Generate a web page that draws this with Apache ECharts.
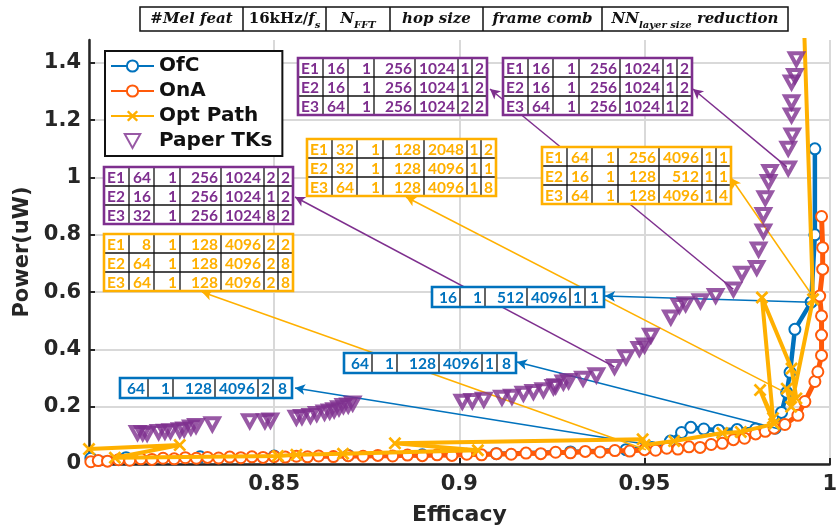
<!DOCTYPE html>
<html>
<head>
<meta charset="utf-8">
<script src="https://cdn.jsdelivr.net/npm/echarts@6/dist/echarts.min.js"></script>
<style>
  html, body { margin: 0; padding: 0; background: #fff; }
  #main { width: 840px; height: 531px; }
</style>
</head>
<body>
<div id="main"></div>
<script>
// ---- data: [efficacy, power] ----
var ofcData = [
  [0.8005, 0.02], [0.81, 0.022], [0.83, 0.025], [0.85, 0.028], [0.87, 0.03],
  [0.89, 0.032], [0.91, 0.036], [0.93, 0.042], [0.945, 0.05], [0.952, 0.058],
  [0.957, 0.08], [0.96, 0.11], [0.9625, 0.128], [0.966, 0.122], [0.97, 0.118],
  [0.975, 0.12], [0.98, 0.122], [0.9853, 0.125], [0.987, 0.18], [0.9884, 0.25],
  [0.9893, 0.32], [0.9906, 0.47], [0.995, 0.565], [0.996, 0.8], [0.996, 1.1]
];
var onaData = [
  [0.8005, 0.008], [0.8025, 0.012], [0.805, 0.01], [0.808, 0.015], [0.811, 0.013],
  [0.814, 0.018], [0.817, 0.016], [0.82, 0.02], [0.823, 0.018], [0.826, 0.022],
  [0.829, 0.02], [0.832, 0.023], [0.835, 0.021], [0.838, 0.024], [0.841, 0.022],
  [0.844, 0.025], [0.847, 0.023], [0.85, 0.026], [0.853, 0.024], [0.856, 0.027],
  [0.859, 0.025], [0.862, 0.028], [0.866, 0.026], [0.87, 0.029], [0.874, 0.027],
  [0.878, 0.03], [0.882, 0.028], [0.886, 0.031], [0.89, 0.029], [0.894, 0.032],
  [0.898, 0.03], [0.902, 0.034], [0.906, 0.032], [0.91, 0.036], [0.914, 0.034],
  [0.918, 0.038], [0.922, 0.036], [0.926, 0.041], [0.93, 0.039], [0.934, 0.044],
  [0.938, 0.042], [0.942, 0.047], [0.946, 0.045], [0.95, 0.05], [0.953, 0.048],
  [0.956, 0.055], [0.959, 0.052], [0.962, 0.06], [0.965, 0.058], [0.968, 0.068],
  [0.971, 0.072], [0.974, 0.085], [0.977, 0.09], [0.98, 0.105], [0.9826, 0.114],
  [0.985, 0.125], [0.9879, 0.138], [0.9914, 0.17], [0.9933, 0.218], [0.996, 0.288],
  [0.9968, 0.322], [0.9978, 0.379], [0.9978, 0.45], [0.9978, 0.517], [0.9973, 0.586],
  [0.9981, 0.68], [0.9981, 0.755], [0.9978, 0.864]
];
var optData = [
  [0.8, 0.052], [0.8245, 0.066], [0.807, 0.022], [0.851, 0.028], [0.856, 0.032],
  [0.8686, 0.036], [0.905, 0.048], [0.8826, 0.072], [0.9495, 0.086], [0.95, 0.066],
  [0.958, 0.08], [0.971, 0.108], [0.976, 0.112], [0.985, 0.14], [0.9812, 0.258],
  [0.9847, 0.16], [0.9817, 0.581], [0.9897, 0.333], [0.991, 0.229], [0.9884, 0.263],
  [0.9896, 0.2], [0.9955, 0.575], [0.9929, 1.6]
];
var tkData = [
  [0.8131, 0.109], [0.8145, 0.108], [0.8157, 0.106], [0.8188, 0.112], [0.8205, 0.113],
  [0.822, 0.115], [0.8245, 0.118], [0.8257, 0.121], [0.8275, 0.128], [0.8289, 0.133],
  [0.8333, 0.139], [0.8434, 0.15], [0.8475, 0.15], [0.849, 0.152], [0.856, 0.162],
  [0.8575, 0.165], [0.8598, 0.168], [0.8615, 0.175], [0.8636, 0.18], [0.865, 0.184],
  [0.8662, 0.188], [0.8675, 0.195], [0.8687, 0.203], [0.87, 0.205], [0.8712, 0.212],
  [0.9008, 0.218], [0.9035, 0.22], [0.9066, 0.225], [0.9115, 0.232], [0.9142, 0.235],
  [0.9173, 0.246], [0.92, 0.252], [0.9227, 0.258], [0.9254, 0.269], [0.926, 0.272],
  [0.9281, 0.285], [0.9295, 0.29], [0.9334, 0.298], [0.937, 0.31], [0.9419, 0.339],
  [0.945, 0.373], [0.9486, 0.402], [0.95, 0.414], [0.9517, 0.448], [0.9571, 0.512],
  [0.9594, 0.552], [0.9611, 0.558], [0.9651, 0.569], [0.9692, 0.587], [0.974, 0.61],
  [0.9763, 0.665], [0.9803, 0.685], [0.9808, 0.749], [0.9821, 0.812], [0.9821, 0.87],
  [0.9826, 0.928], [0.9835, 0.985], [0.9839, 1.02], [0.9888, 1.032], [0.9888, 1.101],
  [0.9899, 1.147], [0.9897, 1.217], [0.9897, 1.263], [0.9897, 1.332], [0.9906, 1.355],
  [0.991, 1.413]
];

var seriesNames = ['OfC', 'OnA', 'Opt Path', 'Paper TKs'];

// header table of the parameter columns
var headerCells = [
  '{it|#Mel feat}',
  '{up|16kHz/}{it|f}{sub|s}',
  '{it|N}{sub|FFT}',
  '{it|hop size}',
  '{it|frame comb}',
  '{it|NN}{sub|layer size}{it| reduction}'
];

// annotation tables
var tkTableA = [['E1','16','1','256','1024','1','2'], ['E2','16','1','256','1024','1','2'], ['E3','64','1','256','1024','2','2']];
var tkTableB = [['E1','16','1','256','1024','1','2'], ['E2','16','1','256','1024','1','2'], ['E3','64','1','256','1024','1','2']];
var tkTableC = [['E1','64','1','256','1024','2','2'], ['E2','16','1','256','1024','1','2'], ['E3','32','1','256','1024','8','2']];
var optTableD = [['E1','8','1','128','4096','2','2'], ['E2','64','1','128','4096','2','8'], ['E3','64','1','128','4096','2','8']];
var optTableE = [['E1','64','1','256','4096','1','1'], ['E2','16','1','128','512','1','1'], ['E3','64','1','128','4096','1','4']];
var optTableF = [['E1','32','1','128','2048','1','2'], ['E2','32','1','128','4096','1','1'], ['E3','64','1','128','4096','1','8']];
var ofcTableG = [['16','1','512','4096','1','1']];
var ofcTableH = [['64','1','128','4096','1','8']];
var ofcTableI = [['64','1','128','4096','2','8']];

// arrows: data point [x, y] -> table edge in pixels [px, py]
var tkArrows = [[[0.974, 0.61], [490, 89]], [[0.9884, 1.037], [693, 89]], [[0.9419, 0.339], [295, 197]]];
var optArrows = [[[0.9504, 0.05], [202, 292]], [[0.996, 0.575], [731, 178]], [[0.987, 0.256], [406, 197]]];
var ofcArrows = [[[0.995, 0.565], [605, 296]], [[0.9866, 0.121], [517, 362]], [[0.95, 0.07], [295, 388]]];

var C_OFC = '#0072BD', C_ONA = '#FF5A0A', C_OPT = '#FFB000', C_TK = '#7E2F8E';

var chart = echarts.init(document.getElementById('main'));

function arrowLines(list) {
  return list.map(function (a) {
    return [{ coord: a[0] }, { x: a[1][0], y: a[1][1] }];
  });
}

function markArrows(list, color) {
  return {
    silent: true,
    animation: false,
    symbol: ['none', 'arrow'],
    symbolSize: [8, 10],
    label: { show: false },
    lineStyle: { type: 'solid', width: 1.5, color: color },
    emphasis: { disabled: true },
    data: arrowLines(list)
  };
}

// build a little boxed table
function tableEls(rows, x0, y0, widths, rowH, color, firstLeft) {
  var els = [];
  var W = 0;
  widths.forEach(function (w) { W += w; });
  var H = rowH * rows.length;
  els.push({ type: 'rect', z: 20, shape: { x: x0, y: y0, width: W, height: H }, style: { fill: '#fff' } });
  var cx = x0;
  for (var i = 0; i < widths.length - 1; i++) {
    cx += widths[i];
    els.push({ type: 'line', z: 21, shape: { x1: cx, y1: y0, x2: cx, y2: y0 + H }, style: { stroke: '#111', lineWidth: 1.3 } });
  }
  for (var r = 1; r < rows.length; r++) {
    els.push({ type: 'line', z: 21, shape: { x1: x0, y1: y0 + r * rowH, x2: x0 + W, y2: y0 + r * rowH }, style: { stroke: '#111', lineWidth: 1.3 } });
  }
  els.push({ type: 'rect', z: 22, shape: { x: x0, y: y0, width: W, height: H }, style: { fill: 'none', stroke: color, lineWidth: 2.6 } });
  rows.forEach(function (row, ri) {
    var xx = x0;
    row.forEach(function (txt, ci) {
      var w = widths[ci];
      var align = 'right', tx = xx + w - 3;
      if (ci === 0 && firstLeft) { align = 'left'; tx = xx + 3; }
      else if (ci >= row.length - 2) { align = 'center'; tx = xx + w / 2; }
      els.push({
        type: 'text', z: 23,
        style: {
          text: txt, x: tx, y: y0 + ri * rowH + rowH / 2 + 1,
          align: align, verticalAlign: 'middle',
          fill: color, fontFamily: 'Lato', fontWeight: 'bold', fontSize: 15.5
        }
      });
      xx += w;
    });
  });
  return els;
}

var bigW = [25, 25, 26, 41, 43, 14, 15];
var smallW = [28, 25, 42, 43, 15, 19];

var headerBounds = [140, 243, 326, 390, 483, 602, 788];
var headerEls = [];
headerEls.push({ type: 'rect', z: 20, shape: { x: 140, y: 7, width: 648, height: 24 }, style: { fill: '#fff', stroke: '#111', lineWidth: 1.5 } });
for (var h = 0; h < headerCells.length; h++) {
  if (h > 0) {
    headerEls.push({ type: 'line', z: 21, shape: { x1: headerBounds[h], y1: 7, x2: headerBounds[h], y2: 31 }, style: { stroke: '#111', lineWidth: 1.5 } });
  }
  headerEls.push({
    type: 'text', z: 22,
    style: {
      text: headerCells[h],
      x: (headerBounds[h] + headerBounds[h + 1]) / 2, y: 19,
      align: 'center', verticalAlign: 'middle',
      rich: {
        it: { fontFamily: 'DejaVu Serif', fontStyle: 'italic', fontWeight: 'bold', fontSize: 15, fill: '#111', lineHeight: 22, verticalAlign: 'middle' },
        up: { fontFamily: 'DejaVu Serif', fontWeight: 'bold', fontSize: 15, fill: '#111', lineHeight: 22, verticalAlign: 'middle' },
        sub: { fontFamily: 'DejaVu Serif', fontStyle: 'italic', fontWeight: 'bold', fontSize: 10, fill: '#111', lineHeight: 22, verticalAlign: 'bottom' }
      }
    }
  });
}

var graphicEls = [].concat(
  headerEls,
  tableEls(tkTableA, 298, 58, bigW, 19, C_TK, true),
  tableEls(tkTableB, 503, 58, bigW, 19, C_TK, true),
  tableEls(tkTableC, 104, 167, bigW, 19, C_TK, true),
  tableEls(optTableD, 104, 234, bigW, 19, C_OPT, true),
  tableEls(optTableE, 542, 147, bigW, 19, C_OPT, true),
  tableEls(optTableF, 307, 139, bigW, 19, C_OPT, true),
  tableEls(ofcTableG, 432, 287, smallW, 20, C_OFC, false),
  tableEls(ofcTableH, 344, 353, smallW, 20, C_OFC, false),
  tableEls(ofcTableI, 120, 378, smallW, 20, C_OFC, false)
);

var axisFont = { fontFamily: 'DejaVu Sans', fontWeight: 'bold', fontSize: 21, color: '#262626' };
var downTri = 'path://M0,0L10,0L5,9Z';

var option = {
  animation: false,
  backgroundColor: '#fff',
  grid: { left: 89, right: 5, top: 40, bottom: 65 },
  legend: {
    orient: 'vertical',
    left: 105, top: 51,
    padding: [5, 10, 5, 5],
    itemGap: 5,
    itemWidth: 43, itemHeight: 14,
    borderColor: '#111', borderWidth: 2,
    backgroundColor: '#fff',
    z: 30,
    textStyle: { fontFamily: 'DejaVu Sans', fontWeight: 'bold', fontSize: 20, color: '#111' },
    data: seriesNames
  },
  xAxis: {
    type: 'value', min: 0.8, max: 1.0, interval: 0.05,
    name: 'Efficacy', nameLocation: 'middle', nameGap: 40,
    nameTextStyle: { fontFamily: 'DejaVu Sans', fontWeight: 'bold', fontSize: 22, color: '#262626' },
    axisLine: { show: true, onZero: false, lineStyle: { color: '#262626', width: 2.5 } },
    axisTick: { show: true, inside: true, length: 6, lineStyle: { color: '#262626', width: 2 } },
    axisLabel: Object.assign({ margin: 10, showMinLabel: false }, axisFont),
    splitLine: { show: true, lineStyle: { color: '#d9d9d9', width: 2 } }
  },
  yAxis: {
    type: 'value', min: 0, max: 1.48, interval: 0.2,
    name: 'Power(uW)', nameLocation: 'middle', nameGap: 56,
    nameTextStyle: { fontFamily: 'DejaVu Sans', fontWeight: 'bold', fontSize: 21, color: '#262626' },
    axisLine: { show: true, onZero: false, lineStyle: { color: '#262626', width: 2.5 } },
    axisTick: { show: true, inside: true, length: 6, lineStyle: { color: '#262626', width: 2 } },
    axisLabel: Object.assign({ margin: 8, showMaxLabel: false }, axisFont),
    splitLine: { show: true, showMaxLine: false, lineStyle: { color: '#d9d9d9', width: 2 } }
  },
  graphic: { elements: graphicEls },
  series: [
    {
      name: 'OfC', type: 'line', data: ofcData, z: 3,
      symbol: 'emptyCircle', symbolSize: 11, showAllSymbol: true,
      lineStyle: { color: C_OFC, width: 4.5 },
      itemStyle: { color: C_OFC, borderWidth: 3.5 },
      markLine: markArrows(ofcArrows, C_OFC)
    },
    {
      name: 'OnA', type: 'line', data: onaData, z: 4,
      symbol: 'emptyCircle', symbolSize: 11, showAllSymbol: true,
      lineStyle: { color: C_ONA, width: 5 },
      itemStyle: { color: C_ONA, borderWidth: 3.8 }
    },
    {
      name: 'Opt Path', type: 'line', data: optData, z: 5,
      symbol: 'path://M0,1.5L1.5,0L5,3.5L8.5,0L10,1.5L6.5,5L10,8.5L8.5,10L5,6.5L1.5,10L0,8.5L3.5,5Z',
      symbolSize: 13, showAllSymbol: true,
      lineStyle: { color: C_OPT, width: 4 },
      itemStyle: { color: C_OPT },
      markLine: markArrows(optArrows, C_OPT)
    },
    {
      name: 'Paper TKs', type: 'scatter', data: tkData, z: 6,
      symbol: downTri, symbolKeepAspect: true, symbolSize: 13,
      itemStyle: { color: 'rgba(255,255,255,0)', borderColor: C_TK, borderWidth: 4 },
      markLine: markArrows(tkArrows, C_TK)
    }
  ]
};

chart.setOption(option);
</script>
</body>
</html>
